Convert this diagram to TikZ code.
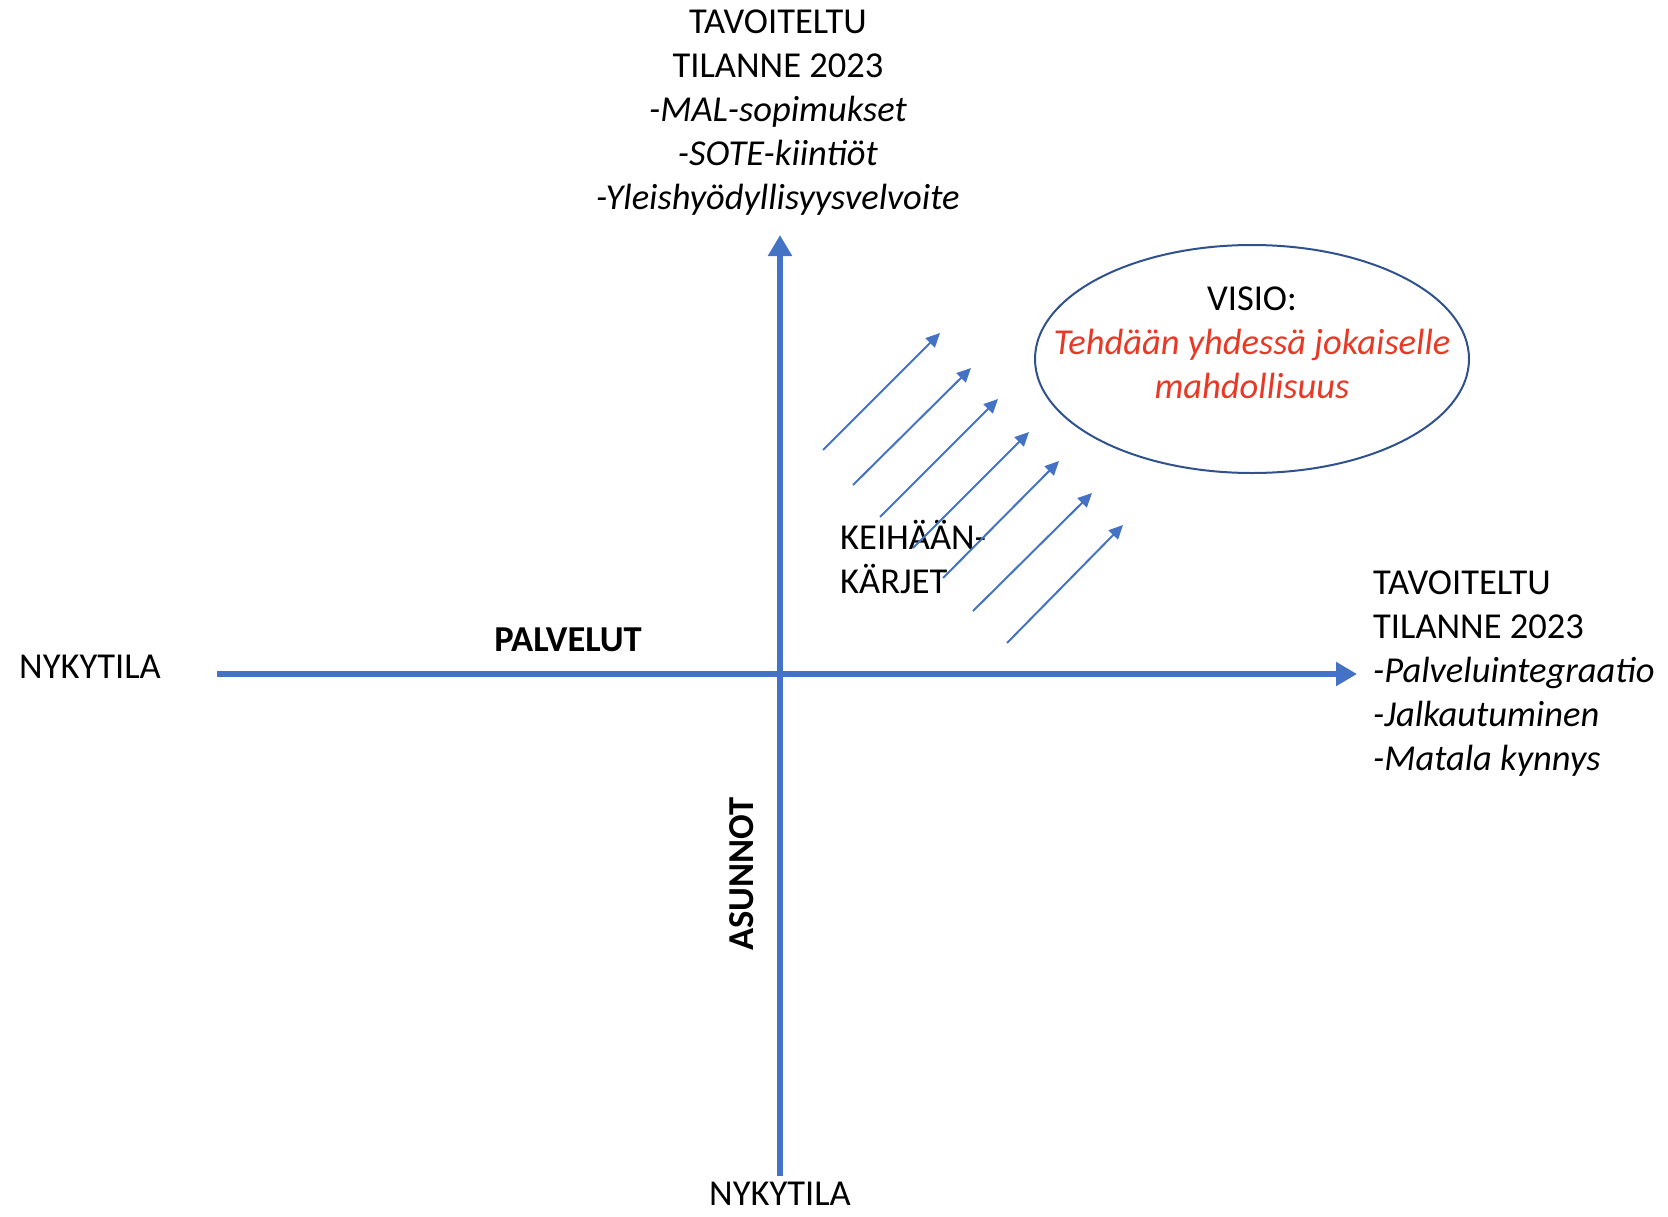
\documentclass[tikz,border=0pt]{standalone}
\usepackage{fontspec}
\setmainfont{Carlito}
\usetikzlibrary{arrows.meta,shapes.geometric}
\definecolor{axisblue}{RGB}{68,114,196}
\definecolor{ringblue}{RGB}{47,82,143}
\definecolor{visiored}{RGB}{232,56,38}
\begin{document}
\begin{tikzpicture}[x=1pt,y=-1pt,
  axis line/.style={draw=axisblue,line width=6.5pt,-{Triangle[length=21pt,width=23pt]}},
  spear/.style={draw=axisblue,line width=2pt,-{Triangle[length=14pt,width=13pt]}},
  label node/.style={inner sep=0pt,font=\fontsize{36.5}{44}\selectfont}]
\useasboundingbox (0,0) rectangle (1668,1216);
\begin{scope}[every node/.style={label node}]
\node[anchor=base,align=center] (goalup) at (778,209) {TAVOITELTU\\TILANNE 2023\\\textit{-MAL-sopimukset}\\\textit{-SOTE-kiintiöt}\\\textit{-Yleishyödyllisyysvelvoite}};
\node[anchor=base west,align=left] (goalright) at (1373,770) {TAVOITELTU\\TILANNE 2023\\\textit{-Palveluintegraatio}\\\textit{-Jalkautuminen}\\\textit{-Matala kynnys}};
\node[anchor=base west] (nowleft) at (19,678) {NYKYTILA};
\node[anchor=base] (nowdown) at (780,1205) {NYKYTILA};
\node[anchor=base,font=\fontsize{36.5}{44}\selectfont\bfseries] (palvelut) at (568,651) {PALVELUT};
\node[rotate=90,font=\fontsize{36.5}{44}\selectfont\bfseries] (asunnot) at (742,874) {ASUNNOT};
\node[anchor=base west,align=left] (spears) at (840,593) {KEIHÄÄN-\\KÄRJET};
\node[ellipse,draw=ringblue,line width=2pt,minimum width=434pt,minimum height=228pt] (visio) at (1252,359) {};
\node[anchor=base,align=center] (visiotext) at (1252,398) {VISIO:\\\textcolor{visiored}{\textit{Tehdään yhdessä jokaiselle}}\\\textcolor{visiored}{\textit{mahdollisuus}}};
\end{scope}
\coordinate (xl) at (217,674);
\coordinate (xr) at (1357,674);
\coordinate (yb) at (780,1176);
\coordinate (yt) at (780,235);
\coordinate (s1) at (823,450);  \coordinate (e1) at (940,333);
\coordinate (s2) at (853,485);  \coordinate (e2) at (971,368);
\coordinate (s3) at (880,517);  \coordinate (e3) at (998,399);
\coordinate (s4) at (913,548);  \coordinate (e4) at (1029,432);
\coordinate (s5) at (943,578);  \coordinate (e5) at (1059,461);
\coordinate (s6) at (973,611);  \coordinate (e6) at (1092,493);
\coordinate (s7) at (1007,643); \coordinate (e7) at (1123,525);
\begin{scope}
\draw[axis line] (xl) -- (xr);
\draw[axis line] (yb) -- (yt);
\draw[spear] (s1) -- (e1);
\draw[spear] (s2) -- (e2);
\draw[spear] (s3) -- (e3);
\draw[spear] (s4) -- (e4);
\draw[spear] (s5) -- (e5);
\draw[spear] (s6) -- (e6);
\draw[spear] (s7) -- (e7);
%\draw[spear] (s) -- (e);
\end{scope}
\end{tikzpicture}
\end{document}
